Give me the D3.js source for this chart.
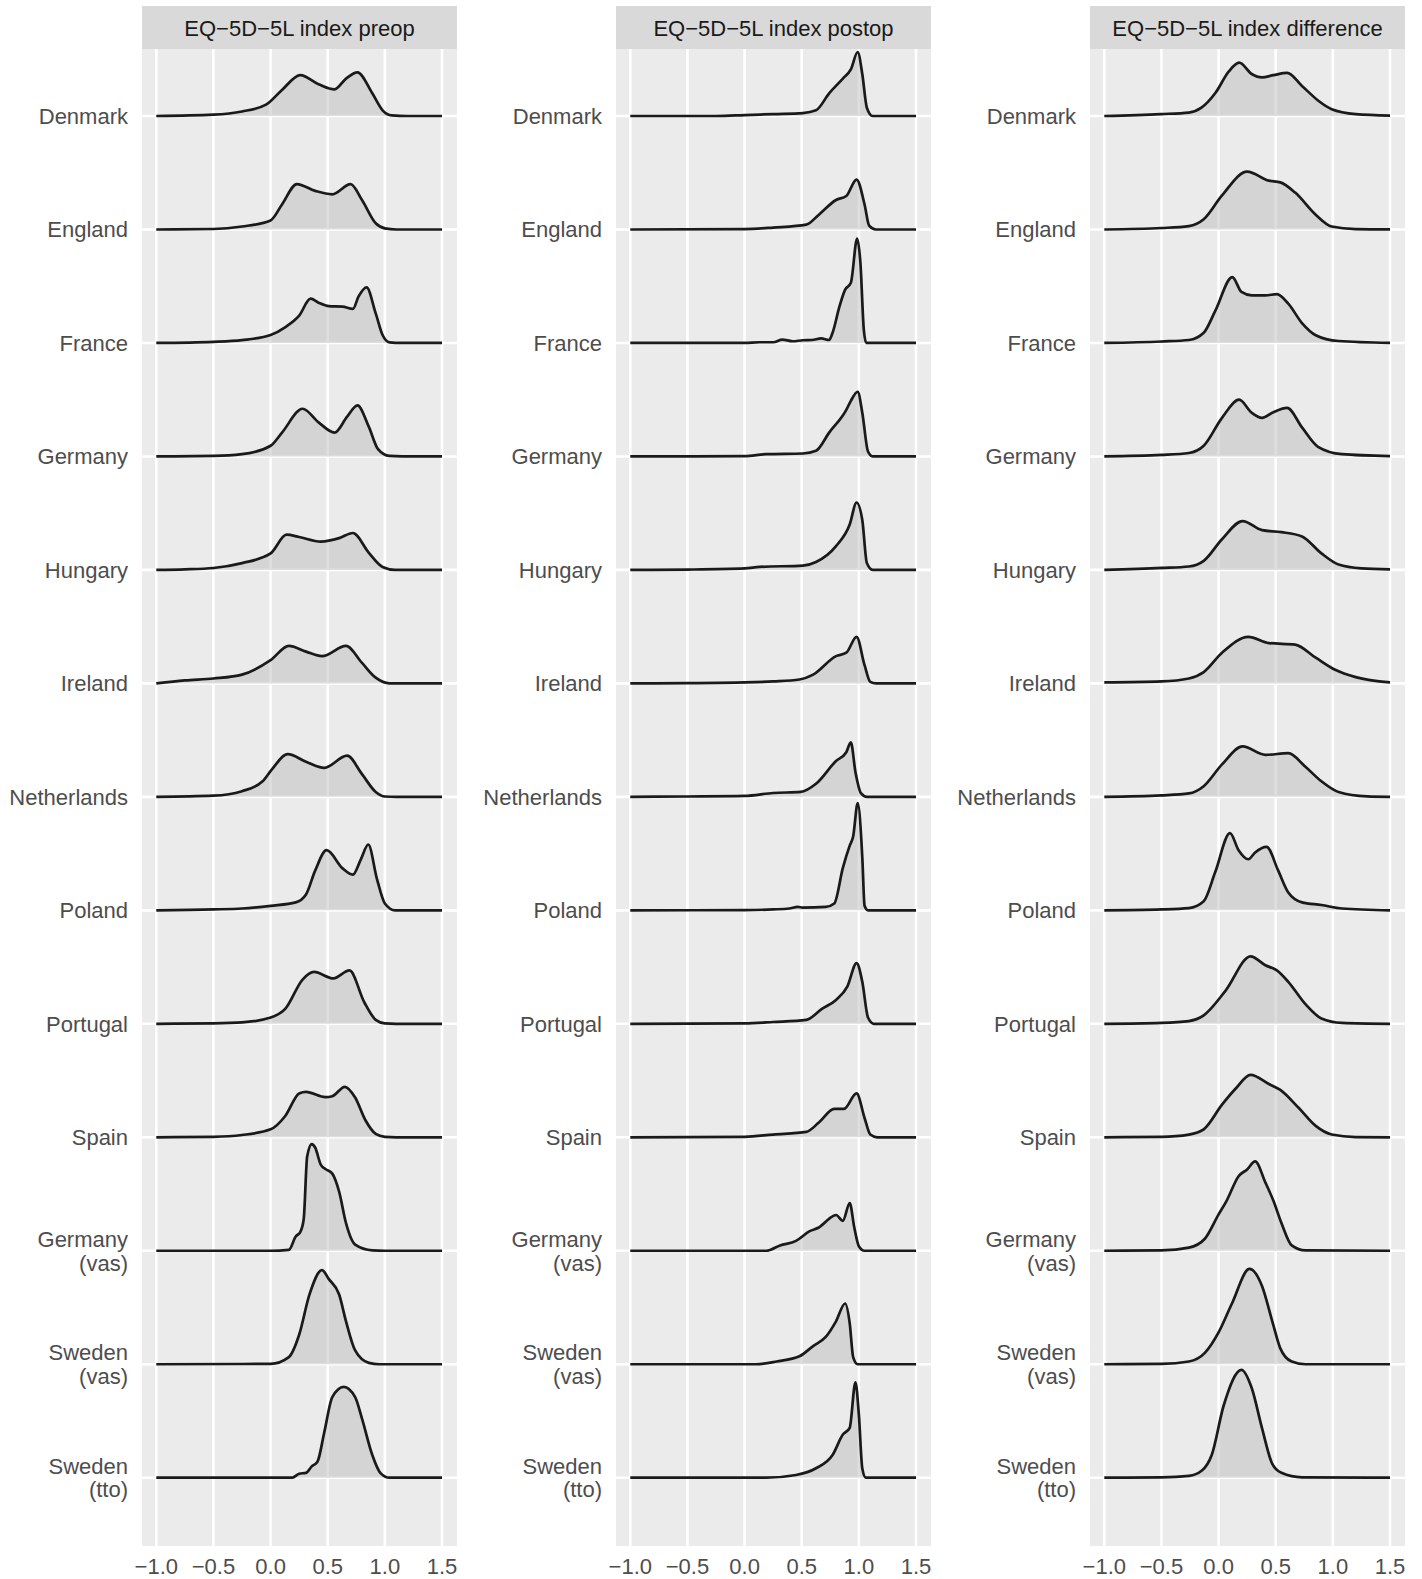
<!DOCTYPE html>
<html lang="en"><head><meta charset="utf-8">
<script type="text/javascript" src="https://cdn.jsdelivr.net/npm/d3@7"></script>
<style>
  body { margin: 0; background: #ffffff; }
  text { font-family: "Liberation Sans", Arial, sans-serif; }
</style>
</head>
<body>
<script type="text/javascript">
// ridgeline densities of EQ-5D-5L index by country set

var countries = ["Denmark", "England", "France", "Germany", "Hungary", "Ireland", "Netherlands",
                 "Poland", "Portugal", "Spain", "Germany\n(vas)", "Sweden\n(vas)", "Sweden\n(tto)"];
var panelTitles = ["EQ\u22125D\u22125L index preop", "EQ\u22125D\u22125L index postop", "EQ\u22125D\u22125L index difference"];
var xTicks = [-1.0, -0.5, 0.0, 0.5, 1.0, 1.5];

// [index value, density height in row units]
var preop = [
  [[-1,0],[-0.5,0.012],[-0.25,0.04],[-0.04,0.1],[0.1,0.23],[0.26,0.36],[0.42,0.28],[0.56,0.235],[0.66,0.33],[0.76,0.385],[0.89,0.2],[0.98,0.05],[1.06,0.005],[1.2,0],[1.5,0]],
  [[-1,0],[-0.5,0.004],[-0.25,0.026],[0,0.08],[0.1,0.22],[0.23,0.4],[0.39,0.34],[0.54,0.31],[0.7,0.4],[0.8,0.26],[0.92,0.055],[1.0,0.01],[1.1,0],[1.5,0]],
  [[-1,0],[-0.5,0.01],[-0.25,0.025],[0,0.07],[0.13,0.14],[0.25,0.24],[0.35,0.39],[0.42,0.355],[0.51,0.325],[0.63,0.32],[0.72,0.3],[0.77,0.41],[0.84,0.49],[0.92,0.26],[0.98,0.07],[1.04,0.005],[1.15,0],[1.5,0]],
  [[-1,0],[-0.5,0.004],[-0.25,0.02],[0,0.094],[0.1,0.21],[0.28,0.42],[0.42,0.3],[0.56,0.21],[0.67,0.35],[0.76,0.45],[0.86,0.26],[0.94,0.064],[1.04,0.004],[1.15,0],[1.5,0]],
  [[-1,0],[-0.75,0.005],[-0.5,0.017],[-0.25,0.06],[0,0.145],[0.14,0.31],[0.25,0.29],[0.44,0.25],[0.6,0.28],[0.72,0.325],[0.86,0.15],[0.98,0.026],[1.09,0],[1.5,0]],
  [[-1,0],[-0.75,0.026],[-0.5,0.043],[-0.25,0.077],[0,0.205],[0.16,0.33],[0.31,0.28],[0.45,0.24],[0.66,0.33],[0.8,0.18],[0.92,0.05],[1.04,0],[1.5,0]],
  [[-1,0],[-0.5,0.01],[-0.25,0.05],[-0.07,0.137],[0.01,0.24],[0.15,0.376],[0.31,0.31],[0.47,0.256],[0.67,0.363],[0.8,0.2],[0.92,0.043],[1.0,0.003],[1.1,0],[1.5,0]],
  [[-1,0],[-0.5,0.008],[-0.25,0.016],[0,0.04],[0.22,0.07],[0.31,0.14],[0.39,0.35],[0.49,0.53],[0.63,0.37],[0.72,0.315],[0.79,0.45],[0.855,0.58],[0.93,0.28],[1.0,0.06],[1.09,0],[1.5,0]],
  [[-1,0],[-0.5,0.004],[-0.25,0.012],[0,0.055],[0.13,0.134],[0.28,0.39],[0.38,0.457],[0.55,0.4],[0.69,0.47],[0.82,0.19],[0.92,0.035],[1.0,0.004],[1.1,0],[1.5,0]],
  [[-1,0],[-0.5,0.004],[-0.25,0.02],[0,0.07],[0.13,0.19],[0.25,0.386],[0.31,0.4],[0.48,0.354],[0.54,0.362],[0.65,0.445],[0.74,0.35],[0.83,0.15],[0.92,0.03],[1.0,0.004],[1.1,0],[1.5,0]],
  [[-1,0],[0,0],[0.16,0.008],[0.22,0.126],[0.26,0.165],[0.29,0.28],[0.32,0.83],[0.36,0.94],[0.39,0.91],[0.44,0.756],[0.48,0.72],[0.54,0.68],[0.6,0.52],[0.66,0.244],[0.74,0.055],[0.89,0.004],[1.0,0],[1.5,0]],
  [[-1,0],[0,0.003],[0.16,0.063],[0.25,0.26],[0.34,0.614],[0.45,0.83],[0.51,0.75],[0.6,0.614],[0.66,0.378],[0.74,0.122],[0.86,0.012],[0.95,0],[1.5,0]],
  [[-1,0],[0.19,0],[0.25,0.035],[0.31,0.043],[0.36,0.1],[0.41,0.14],[0.47,0.4],[0.54,0.71],[0.64,0.8],[0.74,0.71],[0.8,0.52],[0.89,0.2],[0.96,0.043],[1.04,0],[1.5,0]]
];

var postop = [
  [[-1,0],[-0.25,0],[0,0.008],[0.25,0.017],[0.51,0.026],[0.625,0.05],[0.74,0.2],[0.86,0.33],[0.93,0.41],[0.99,0.564],[1.03,0.37],[1.07,0.073],[1.12,0],[1.5,0]],
  [[-1,0],[0,0.003],[0.25,0.017],[0.54,0.043],[0.65,0.13],[0.8,0.26],[0.89,0.295],[0.98,0.44],[1.05,0.22],[1.09,0.034],[1.15,0],[1.5,0]],
  [[-1,0],[0,0],[0.13,0.006],[0.25,0.006],[0.33,0.03],[0.42,0.015],[0.51,0.024],[0.59,0.026],[0.67,0.04],[0.74,0.026],[0.77,0.09],[0.83,0.32],[0.88,0.47],[0.93,0.53],[0.985,0.92],[1.014,0.7],[1.043,0.12],[1.065,0],[1.5,0]],
  [[-1,0],[0,0.002],[0.19,0.02],[0.51,0.026],[0.625,0.05],[0.74,0.21],[0.89,0.41],[0.93,0.49],[0.99,0.57],[1.03,0.385],[1.08,0.043],[1.12,0],[1.5,0]],
  [[-1,0],[-0.5,0.003],[0,0.013],[0.13,0.026],[0.51,0.038],[0.625,0.07],[0.8,0.21],[0.92,0.4],[0.98,0.594],[1.03,0.44],[1.07,0.06],[1.12,0],[1.5,0]],
  [[-1,0],[-0.5,0.002],[0,0.008],[0.25,0.017],[0.48,0.034],[0.6,0.077],[0.8,0.24],[0.89,0.27],[0.98,0.41],[1.05,0.16],[1.1,0.013],[1.15,0],[1.5,0]],
  [[-1,0],[-0.5,0.003],[0,0.008],[0.25,0.034],[0.49,0.043],[0.625,0.115],[0.8,0.316],[0.89,0.393],[0.93,0.48],[0.97,0.22],[1.02,0.03],[1.07,0],[1.5,0]],
  [[-1,0],[0,0.002],[0.25,0.008],[0.39,0.016],[0.465,0.03],[0.51,0.024],[0.71,0.03],[0.785,0.06],[0.86,0.374],[0.92,0.57],[0.95,0.65],[0.99,0.945],[1.03,0.47],[1.05,0.04],[1.08,0],[1.5,0]],
  [[-1,0],[0,0.004],[0.25,0.016],[0.54,0.035],[0.68,0.134],[0.8,0.21],[0.9,0.33],[0.98,0.535],[1.03,0.37],[1.08,0.055],[1.13,0],[1.5,0]],
  [[-1,0],[0,0.004],[0.25,0.024],[0.54,0.047],[0.65,0.13],[0.785,0.25],[0.87,0.25],[0.98,0.386],[1.05,0.17],[1.1,0.024],[1.16,0],[1.5,0]],
  [[-1,0],[0.19,0],[0.31,0.047],[0.45,0.087],[0.57,0.173],[0.65,0.205],[0.77,0.303],[0.8,0.315],[0.86,0.264],[0.92,0.42],[0.96,0.205],[1.0,0.04],[1.05,0],[1.5,0]],
  [[-1,0],[0.1,0],[0.28,0.024],[0.48,0.07],[0.6,0.16],[0.71,0.24],[0.8,0.378],[0.88,0.535],[0.92,0.36],[0.95,0.063],[0.99,0],[1.5,0]],
  [[-1,0],[0.19,0],[0.45,0.024],[0.625,0.083],[0.77,0.2],[0.86,0.38],[0.92,0.44],[0.97,0.84],[1.0,0.555],[1.03,0.083],[1.06,0],[1.5,0]]
];

var difference = [
  [[-1,0],[-0.51,0.017],[-0.26,0.03],[-0.15,0.073],[-0.03,0.2],[0.09,0.393],[0.18,0.47],[0.29,0.37],[0.38,0.34],[0.48,0.36],[0.6,0.38],[0.73,0.265],[0.87,0.137],[0.99,0.06],[1.2,0.017],[1.5,0.004]],
  [[-1,0],[-0.5,0.013],[-0.26,0.03],[-0.13,0.09],[0.03,0.3],[0.25,0.51],[0.44,0.43],[0.54,0.415],[0.67,0.325],[0.85,0.13],[0.99,0.026],[1.2,0.003],[1.5,0]],
  [[-1,0],[-0.5,0.013],[-0.26,0.026],[-0.13,0.09],[-0.03,0.28],[0.12,0.58],[0.2,0.45],[0.29,0.42],[0.41,0.42],[0.51,0.43],[0.61,0.346],[0.73,0.175],[0.85,0.068],[1.05,0.017],[1.5,0]],
  [[-1,0],[-0.5,0.013],[-0.26,0.03],[-0.13,0.094],[0.03,0.34],[0.18,0.5],[0.29,0.385],[0.38,0.34],[0.48,0.39],[0.6,0.427],[0.73,0.256],[0.87,0.085],[1.08,0.02],[1.5,0.003]],
  [[-1,0],[-0.5,0.017],[-0.26,0.03],[-0.13,0.08],[0.03,0.27],[0.21,0.43],[0.38,0.35],[0.55,0.333],[0.73,0.295],[0.9,0.145],[1.05,0.047],[1.25,0.013],[1.5,0.004]],
  [[-1,0.008],[-0.5,0.017],[-0.26,0.043],[-0.13,0.1],[0.03,0.27],[0.26,0.41],[0.44,0.355],[0.67,0.342],[0.85,0.226],[1.02,0.12],[1.2,0.055],[1.5,0.008]],
  [[-1,0],[-0.5,0.013],[-0.26,0.03],[-0.13,0.094],[0.03,0.286],[0.21,0.444],[0.41,0.37],[0.61,0.385],[0.76,0.265],[0.9,0.137],[1.05,0.043],[1.3,0.004],[1.5,0]],
  [[-1,0],[-0.5,0.008],[-0.26,0.02],[-0.13,0.08],[-0.03,0.335],[0.1,0.68],[0.175,0.53],[0.26,0.45],[0.32,0.51],[0.42,0.56],[0.52,0.354],[0.61,0.157],[0.73,0.07],[0.9,0.047],[1.08,0.016],[1.5,0]],
  [[-1,0],[-0.5,0.008],[-0.26,0.024],[-0.13,0.075],[0.06,0.29],[0.28,0.594],[0.41,0.516],[0.51,0.47],[0.61,0.37],[0.76,0.173],[0.9,0.047],[1.08,0.008],[1.5,0]],
  [[-1,0],[-0.5,0.004],[-0.26,0.024],[-0.13,0.07],[0.03,0.287],[0.146,0.425],[0.28,0.55],[0.44,0.47],[0.54,0.417],[0.7,0.26],[0.85,0.1],[0.99,0.024],[1.2,0.002],[1.5,0]],
  [[-1,0],[-0.5,0.004],[-0.26,0.028],[-0.12,0.106],[0,0.32],[0.07,0.44],[0.175,0.657],[0.25,0.717],[0.32,0.787],[0.41,0.6],[0.48,0.44],[0.55,0.244],[0.64,0.047],[0.76,0.003],[1.5,0]],
  [[-1,0],[-0.5,0.003],[-0.26,0.024],[-0.12,0.1],[0,0.28],[0.117,0.535],[0.27,0.84],[0.38,0.69],[0.47,0.378],[0.54,0.14],[0.64,0.024],[0.76,0],[1.5,0]],
  [[-1,0],[-0.5,0.003],[-0.26,0.016],[-0.146,0.063],[-0.06,0.2],[0.044,0.634],[0.2,0.95],[0.29,0.79],[0.38,0.437],[0.47,0.122],[0.55,0.043],[0.73,0.003],[1.5,0]]
];

var panelData = [preop, postop, difference];

var width = 1422, height = 1579;
var panelLefts = [142, 616, 1090];
var panelWidth = 315;
var stripTop = 6, panelTop = 49, panelBottom = 1546;
var fontSize = 22;

var svg = d3.select("body").append("svg")
    .attr("width", width)
    .attr("height", height);

var y = d3.scalePoint().domain(countries).range([116, 1477.7]);
var rowStep = (1477.7 - 116) / (countries.length - 1);
var h = d3.scaleLinear().domain([0, 1]).range([0, rowStep]);

panelTitles.forEach(function(title, p) {
    var left = panelLefts[p];
    var x = d3.scaleLinear().domain([-1, 1.5]).range([left + 14.3, left + 300]);
    var g = svg.append("g");

    // strip
    g.append("rect")
        .attr("x", left).attr("y", stripTop)
        .attr("width", panelWidth).attr("height", panelTop - stripTop)
        .attr("fill", "#d9d9d9");
    g.append("text")
        .attr("x", left + panelWidth / 2).attr("y", 36)
        .attr("text-anchor", "middle")
        .attr("font-size", fontSize)
        .attr("fill", "#1a1a1a")
        .text(title);

    // panel background and grid
    g.append("rect")
        .attr("x", left).attr("y", panelTop)
        .attr("width", panelWidth).attr("height", panelBottom - panelTop)
        .attr("fill", "#ebebeb");
    g.selectAll(".vgrid").data(xTicks).enter().append("line")
        .attr("x1", d => x(d)).attr("x2", d => x(d))
        .attr("y1", panelTop).attr("y2", panelBottom)
        .attr("stroke", "#ffffff").attr("stroke-width", 2.6);
    g.selectAll(".hgrid").data(countries).enter().append("line")
        .attr("x1", left).attr("x2", left + panelWidth)
        .attr("y1", d => y(d)).attr("y2", d => y(d))
        .attr("stroke", "#ffffff").attr("stroke-width", 2.6);

    // y labels
    countries.forEach(function(c) {
        var lines = c.split("\n");
        var t = g.append("text")
            .attr("text-anchor", "end")
            .attr("font-size", fontSize)
            .attr("fill", "#4d4d4d");
        lines.forEach(function(line, i) {
            t.append("tspan")
                .attr("x", left - 14)
                .attr("y", y(c) + 8 - (lines.length - 1) * 23.5 / 2 + i * 23.5)
                .text(line);
        });
    });

    // x tick labels
    g.selectAll(".xlab").data(xTicks).enter().append("text")
        .attr("x", d => x(d)).attr("y", 1574)
        .attr("text-anchor", "middle")
        .attr("font-size", fontSize)
        .attr("fill", "#4d4d4d")
        .text(d => d3.format(".1f")(d));

    // ridges, top row first so lower rows sit in front
    var series = panelData[p];
    countries.forEach(function(c, i) {
        var base = y(c);
        var area = d3.area()
            .x(d => x(d[0]))
            .y0(base)
            .y1(d => base - h(d[1]))
            .curve(d3.curveMonotoneX);
        var line = d3.line()
            .x(d => x(d[0]))
            .y(d => base - h(d[1]))
            .curve(d3.curveMonotoneX);
        g.append("path")
            .attr("d", area(series[i]))
            .attr("fill", "#bdbdbd")
            .attr("fill-opacity", 0.5);
        g.append("path")
            .attr("d", line(series[i]))
            .attr("fill", "none")
            .attr("stroke", "#1a1a1a")
            .attr("stroke-width", 2.7)
            .attr("stroke-linejoin", "round");
    });
});
</script>
</body></html>
